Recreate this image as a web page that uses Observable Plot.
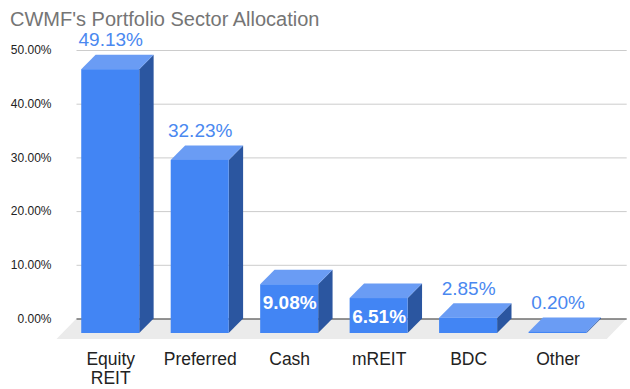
<!DOCTYPE html>
<html><head><meta charset="utf-8">
<script src="https://cdn.jsdelivr.net/npm/d3@7"></script>
<script src="https://cdn.jsdelivr.net/npm/@observablehq/plot@0.6"></script>
<style>
body{margin:0;background:#fff;}
#wrap{position:relative;width:630px;height:389px;font-family:"Liberation Sans",Arial,sans-serif;}
#title{position:absolute;left:10px;top:9px;font-size:20px;line-height:20px;color:#757575;white-space:nowrap;}
</style></head><body>
<div id="wrap"><div id="title">CWMF's Portfolio Sector Allocation</div></div>
<script>
// ---- data ----
const categories = ["Equity\nREIT", "Preferred", "Cash", "mREIT", "BDC", "Other"];
const values = [49.13, 32.23, 9.08, 6.51, 2.85, 0.20];
const yTicks = [0, 10, 20, 30, 40, 50];

// ---- geometry (3D look, in scale units) ----
const W = 630, H = 389;
const mL = 65.5, mR = 27.7, mT = 50, mB = 70.5;
const pxPerX = (W - mL - mR) / 6;
const pxPerY = (H - mT - mB) / 50;
const halfW = 29 / pxPerX;          // half bar width
const dX = 14.4 / pxPerX;           // bar depth (x)
const dY = 14.5 / pxPerY;           // bar depth (y)
const fX0 = -9 / pxPerX, fX1 = 6 + 4.4 / pxPerX; // floor front edges
const fdX = 20 / pxPerX, fdY = 20.5 / pxPerY;    // floor depth
const gX0 = fX0 + fdX, gX1 = fX1 + fdX;          // back wall extent

const idx = d3.range(categories.length);
const fmt = v => v.toFixed(2) + "%";
const inside = i => values[i] > 5 && values[i] < 20;

const floor = [
  {x: fX0, y1: -fdY, y2: -fdY},
  {x: gX0, y1: -fdY, y2: 0},
  {x: fX1, y1: -fdY, y2: 0},
  {x: gX1, y1: 0, y2: 0}
];

const tops = idx.flatMap(i => {
  const L = i + 0.5 - halfW, R = i + 0.5 + halfW, v = values[i];
  return [
    {z: i, x: L, y1: v - dY, y2: v - dY},
    {z: i, x: L + dX, y1: v - dY, y2: v},
    {z: i, x: R, y1: v - dY, y2: v},
    {z: i, x: R + dX, y1: v, y2: v}
  ];
});
const sides = idx.flatMap(i => {
  const R = i + 0.5 + halfW, v = values[i];
  return [
    {z: i, x: R, y1: -dY, y2: v - dY},
    {z: i, x: R + dX, y1: 0, y2: v}
  ];
});

const chart = Plot.plot({
  width: W, height: H,
  marginLeft: mL, marginRight: mR, marginTop: mT, marginBottom: mB,
  x: {domain: [0, 6], label: null},
  y: {domain: [0, 50], label: null},
  style: {fontFamily: "'Liberation Sans', Arial, sans-serif", color: "#222", background: "white"},
  marks: [
    Plot.area(floor, {x1: "x", y1: "y1", y2: "y2", fill: "#ebebeb"}),
    Plot.ruleY(yTicks.filter(t => t > 0), {x1: gX0, x2: gX1, stroke: "#cccccc", strokeWidth: 1}),
    Plot.ruleY([0], {x1: gX0, x2: gX1, stroke: "#333333", strokeWidth: 1}),
    Plot.area(sides, {x1: "x", y1: "y1", y2: "y2", z: "z", fill: "#2b56a0"}),
    Plot.area(tops, {x1: "x", y1: "y1", y2: "y2", z: "z", fill: "#6a9cf4"}),
    Plot.rect(idx, {
      x1: i => i + 0.5 - halfW, x2: i => i + 0.5 + halfW,
      y1: -dY, y2: i => values[i] - dY, fill: "#4285f4"
    }),
    Plot.text(idx.filter(i => !inside(i)), {
      x: i => i + 0.5, y: i => values[i], text: i => fmt(values[i]),
      dy: -15, fill: "#4a88f0", fontSize: 19
    }),
    Plot.text(idx.filter(inside), {
      x: i => i + 0.5, y: i => values[i], text: i => fmt(values[i]),
      dy: 33, fill: "white", fontSize: 19, fontWeight: "bold"
    }),
    Plot.axisY({ticks: yTicks, tickFormat: fmt, tickSize: 0, tickPadding: 14.5, fontSize: 12, label: null}),
    Plot.axisX({ticks: idx.map(i => i + 0.5), tickFormat: t => categories[Math.floor(t)],
      tickSize: 0, tickPadding: 32, fontSize: 17.5, lineHeight: 1.1, label: null})
  ]
});
document.getElementById("wrap").prepend(chart);
</script>
</body></html>
